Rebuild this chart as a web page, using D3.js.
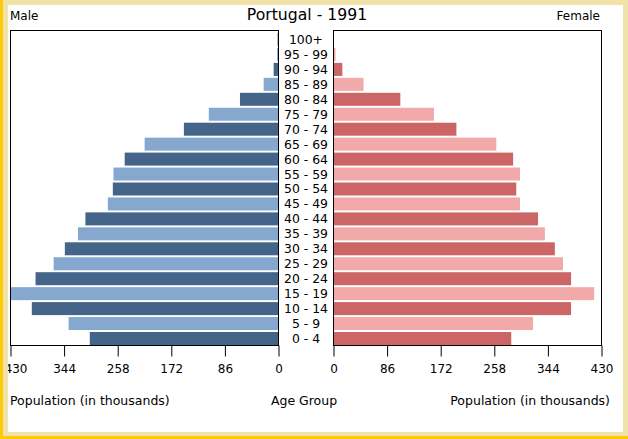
<!DOCTYPE html>
<html><head><meta charset="utf-8">
<script src="https://cdn.jsdelivr.net/npm/d3@7"></script>
<style>html,body{margin:0;padding:0;background:#fff;}svg{display:block;font-family:"DejaVu Sans",sans-serif;}</style>
</head><body>
<svg id="c" width="628" height="439"></svg>
<script>
const ageGroups = ["0 - 4","5 - 9","10 - 14","15 - 19","20 - 24","25 - 29","30 - 34","35 - 39","40 - 44","45 - 49","50 - 54","55 - 59","60 - 64","65 - 69","70 - 74","75 - 79","80 - 84","85 - 89","90 - 94","95 - 99","100+"];
const maleValues = [302,336,395,430,389,360,342,321,309,273,265,264,246,214,151,111,61,23,7,1.5,0.7];
const femaleValues = [286,321,382,419,382,369,356,340,329,300,294,300,289,262,198,162,108,49,15,4,1.5];
const tickValues = [0,86,172,258,344,430];
const chartTitle = "Portugal - 1991";

(function(){
const svg = d3.select("#c");
const pTop = 30, pBottom = 345;
const lL = 10, lR = 278, rL = 333, rR = 601;
const xL = d3.scaleLinear().domain([0,430]).range([lR,lL]);
const xR = d3.scaleLinear().domain([0,430]).range([rL,rR]);
const y = d3.scaleBand().domain(ageGroups.slice().reverse()).range([33,pBottom]).paddingInner(0.13).paddingOuter(0);
const maleCols = ["#45648a","#86a8cf"], femCols = ["#cc6666","#f2a9a9"];

svg.append("rect").attr("x",0).attr("y",0).attr("width",628).attr("height",439).attr("fill","#fff");

svg.append("g").selectAll("rect").data(ageGroups).join("rect")
  .attr("x",(d,i)=>xL(maleValues[i])).attr("y",d=>y(d))
  .attr("width",(d,i)=>xL(0)-xL(maleValues[i])).attr("height",y.bandwidth())
  .attr("fill",(d,i)=>maleCols[i%2]);
svg.append("g").selectAll("rect").data(ageGroups).join("rect")
  .attr("x",xR(0)).attr("y",d=>y(d))
  .attr("width",(d,i)=>xR(femaleValues[i])-xR(0)).attr("height",y.bandwidth())
  .attr("fill",(d,i)=>femCols[i%2]);

[[lL,lR],[rL,rR]].forEach(([a,b])=>{
  svg.append("rect").attr("x",a+0.5).attr("y",pTop+0.5).attr("width",b-a).attr("height",pBottom-pTop)
    .attr("fill","none").attr("stroke","#000").attr("stroke-width",1);
});

const axL = d3.axisBottom(xL).tickValues(tickValues).tickSize(11).tickPadding(8);
const axR = d3.axisBottom(xR).tickValues(tickValues).tickSize(11).tickPadding(8);
[axL,axR].forEach((ax,k)=>{
  const g = svg.append("g").attr("transform",`translate(0.5,${pBottom+0.5})`).call(ax);
  g.select(".domain").remove();
  g.selectAll("text").attr("font-size","12px").attr("font-family","DejaVu Sans").attr("fill","#000");
  if(k===0) g.selectAll(".tick").filter(d=>d===430).select("text").attr("dx",5);
});

svg.append("g").selectAll("text").data(ageGroups).join("text")
  .attr("x",(lR+rL)/2+0.5).attr("y",d=>y(d)+y.bandwidth()/2).attr("dy","0.36em")
  .attr("text-anchor","middle").attr("font-size","12.4px").text(d=>d);

svg.append("text").attr("x",307).attr("y",20).attr("text-anchor","middle").attr("font-size","15.7px").text(chartTitle);
svg.append("text").attr("x",10).attr("y",20).attr("font-size","12px").text("Male");
svg.append("text").attr("x",600).attr("y",20).attr("text-anchor","end").attr("font-size","12px").text("Female");
svg.append("text").attr("x",10).attr("y",405).attr("font-size","12.5px").text("Population (in thousands)");
svg.append("text").attr("x",304).attr("y",405).attr("text-anchor","middle").attr("font-size","12.5px").text("Age Group");
svg.append("text").attr("x",610).attr("y",405).attr("text-anchor","end").attr("font-size","12.5px").text("Population (in thousands)");

const kh = "#f0e2a8", gold = "#fccb05";
svg.append("rect").attr("x",0).attr("y",0).attr("width",628).attr("height",5).attr("fill",kh);
svg.append("rect").attr("x",0).attr("y",0).attr("width",8).attr("height",439).attr("fill",kh);
svg.append("rect").attr("x",623).attr("y",0).attr("width",5).attr("height",439).attr("fill",kh);
svg.append("rect").attr("x",0).attr("y",432).attr("width",628).attr("height",7).attr("fill",kh);
svg.append("rect").attr("x",0).attr("y",0).attr("width",3).attr("height",439).attr("fill",gold);
svg.append("rect").attr("x",0).attr("y",436).attr("width",628).attr("height",3).attr("fill",gold);
})();
</script>
</body></html>
